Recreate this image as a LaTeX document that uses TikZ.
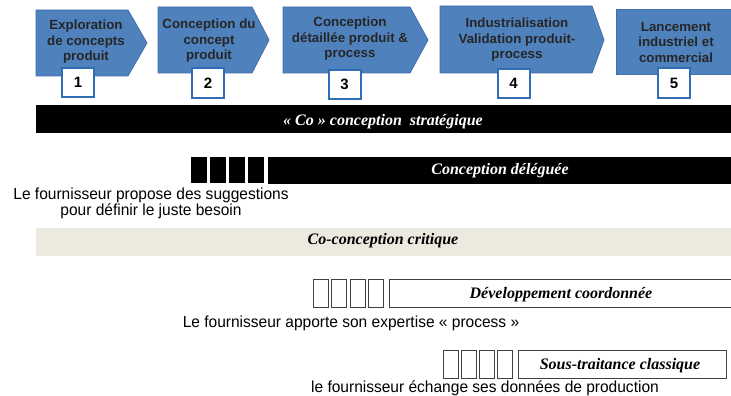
\documentclass[tikz,border=0pt]{standalone}
\usepackage{fontspec}
\setmainfont{Liberation Sans}
\newfontfamily\serifbi{Liberation Serif}
\newfontfamily\notefont[FakeStretch=0.97]{Liberation Sans}
\definecolor{chevblue}{HTML}{4F81BD}
\definecolor{chevedge}{HTML}{3F6FAD}
\definecolor{numedge}{HTML}{2F6DB5}
\definecolor{beigebar}{HTML}{ECE9DF}
\definecolor{outl}{HTML}{404040}
\begin{document}
\begin{tikzpicture}[x=1pt,y=-1pt,
  chev/.style={fill=chevblue,draw=chevedge,line width=0.8pt},
  chevtext/.style={font=\fontsize{13.3}{15.5}\selectfont\bfseries,text=black!85,align=center,inner sep=0pt},
  numbox/.style={draw=numedge,line width=2pt,fill=white,minimum width=32pt,minimum height=29pt,inner sep=0pt,font=\fontsize{15}{15}\selectfont\bfseries},
  bartext/.style={font=\serifbi\fontsize{16}{16}\selectfont\bfseries\itshape,inner sep=0pt,anchor=base},
  note/.style={font=\notefont\fontsize{16}{15}\selectfont,align=center,inner sep=0pt},
  blk/.style={fill=black},
  obox/.style={draw=outl,line width=0.8pt,fill=white}
]
\useasboundingbox (0,0) rectangle (731,396);
% chevrons
\draw[chev] (36,10) -- (128,10) -- (147,43) -- (128,76) -- (36,76) -- cycle;
\draw[chev] (158,7) -- (252,7) -- (269,40) -- (252,73) -- (158,73) -- cycle;
\draw[chev] (283,7) -- (410,7) -- (428,40) -- (410,73) -- (283,73) -- cycle;
\draw[chev] (440,6) -- (592,6) -- (604,40) -- (592,73) -- (440,73) -- cycle;
\draw[chev] (616,9) rectangle (734,74);
\node[chevtext] (t1) at (86,42) {Exploration\\de concepts\\produit};
\node[chevtext] (t2) at (209,41) {Conception du\\concept\\produit};
\node[chevtext] (t3) at (350,39) {Conception\\détaillée produit \&\\process};
\node[chevtext] (t4) at (517,40) {Industrialisation\\Validation produit-\\process};
\node[chevtext] (t5) at (676,42) {Lancement\\industriel et\\commercial};
% numbers
\node[numbox] (n1) at (78,82.5) {1};
\node[numbox] (n2) at (208,83) {2};
\node[numbox] (n3) at (344.5,84.5) {3};
\node[numbox] (n4) at (513.5,83.5) {4};
\node[numbox] (n5) at (674,83) {5};
% bar 1
\fill[black] (36,105) rectangle (734,133);
\node[bartext,text=white] (b1) at (383,125) {« Co » conception\ \ stratégique};
% bar 2
\fill[black] (268,157) rectangle (734,184);
\foreach \x in {191,210,229,248} \fill[blk] (\x,157) rectangle (\x+16,183);
\node[bartext,text=white] (b2) at (500,174) {Conception déléguée};
\node[note] (c1) at (151,203.5) {Le fournisseur propose des suggestions\\pour définir le juste besoin};
% bar 3
\fill[beigebar] (36,228) rectangle (734,256);
\node[bartext] (b3) at (383,244) {Co-conception critique};
% row 4
\foreach \x in {313,331.5,350,368.5} \draw[obox] (\x,279) rectangle (\x+15,307);
\draw[obox] (389,279) rectangle (740,307);
\node[bartext] (b4) at (561,298.5) {Développement coordonnée};
\node[note] (c2) at (351,323) {Le fournisseur apporte son expertise « process »};
% row 5
\foreach \x in {443,461,479,497} \draw[obox] (\x,350) rectangle (\x+15,378);
\draw[obox] (518,350) rectangle (726,378);
\node[bartext] (b5) at (620,369.5) {Sous-traitance classique};
\node[note] (c3) at (485,388.5) {le fournisseur échange ses données de production};
\end{tikzpicture}
\end{document}
